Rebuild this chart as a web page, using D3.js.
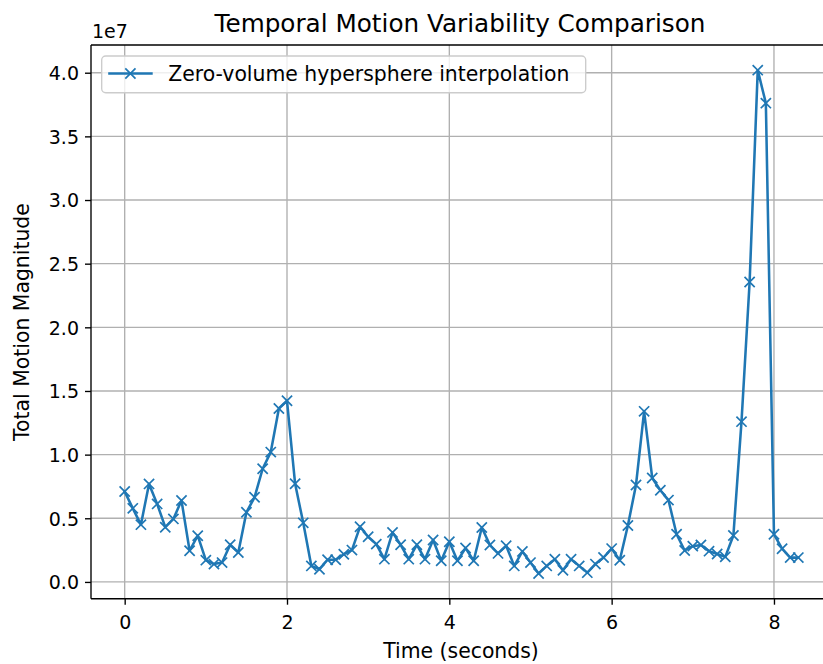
<!DOCTYPE html>
<html>
<head>
<meta charset="utf-8">
<script src="https://cdn.jsdelivr.net/npm/d3@7"></script>
<style>
  body { margin: 0; background: #fff; }
  text { font-family: "DejaVu Sans", sans-serif; fill: #000; }
</style>
</head>
<body>
<div id="chart"></div>
<script>
// time stamps (seconds)
var times = [0.0, 0.1, 0.2, 0.3, 0.4, 0.5, 0.6, 0.7, 0.8, 0.9,
             1.0, 1.1, 1.2, 1.3, 1.4, 1.5, 1.6, 1.7, 1.8, 1.9,
             2.0, 2.1, 2.2, 2.3, 2.4, 2.5, 2.6, 2.7, 2.8, 2.9,
             3.0, 3.1, 3.2, 3.3, 3.4, 3.5, 3.6, 3.7, 3.8, 3.9,
             4.0, 4.1, 4.2, 4.3, 4.4, 4.5, 4.6, 4.7, 4.8, 4.9,
             5.0, 5.1, 5.2, 5.3, 5.4, 5.5, 5.6, 5.7, 5.8, 5.9,
             6.0, 6.1, 6.2, 6.3, 6.4, 6.5, 6.6, 6.7, 6.8, 6.9,
             7.0, 7.1, 7.2, 7.3, 7.4, 7.5, 7.6, 7.7, 7.8, 7.9,
             8.0, 8.1, 8.2, 8.3];

// total motion magnitude, in units of 1e7
var motion = [0.710, 0.578, 0.450, 0.770, 0.613, 0.430, 0.495, 0.640, 0.245, 0.363,
              0.171, 0.140, 0.152, 0.292, 0.231, 0.547, 0.665, 0.889, 1.020, 1.362,
              1.423, 0.771, 0.464, 0.126, 0.100, 0.174, 0.174, 0.218, 0.250, 0.434,
              0.355, 0.297, 0.179, 0.389, 0.292, 0.179, 0.292, 0.179, 0.329, 0.166,
              0.316, 0.166, 0.266, 0.166, 0.428, 0.290, 0.224, 0.284, 0.126, 0.240,
              0.152, 0.066, 0.126, 0.179, 0.092, 0.179, 0.126, 0.073, 0.140, 0.192,
              0.262, 0.170, 0.443, 0.762, 1.340, 0.817, 0.720, 0.643, 0.375, 0.247,
              0.281, 0.290, 0.242, 0.219, 0.197, 0.365, 1.259, 2.356, 4.020, 3.761,
              0.374, 0.261, 0.191, 0.191].map(function(v) { return v * 1e7; });

var xTicks = [0, 2, 4, 6, 8];
var yTicks = [0, 0.5e7, 1.0e7, 1.5e7, 2.0e7, 2.5e7, 3.0e7, 3.5e7, 4.0e7];
var seriesName = "Zero-volume hypersphere interpolation";

var svgWidth = 823;
var svgHeight = 664;
// axes box; the right side runs past the window edge like the original
var margin = {top: 45, left: 91};
var width = 741;
var height = 553.7;
var blue = "#1f77b4";
var tickFont = "19px";
var labelFont = "20.4px";

var svg = d3.select("#chart").append("svg")
    .attr("width", svgWidth)
    .attr("height", svgHeight);

var g = svg.append("g")
    .attr("transform", `translate(${margin.left}, ${margin.top})`);

// matplotlib style 5% margins
var xExt = d3.extent(times);
var yExt = d3.extent(motion);
var xPad = (xExt[1] - xExt[0]) * 0.05;
var yPad = (yExt[1] - yExt[0]) * 0.05;

var x = d3.scaleLinear().domain([xExt[0] - xPad, xExt[1] + xPad]).range([0, width]);
var y = d3.scaleLinear().domain([yExt[0] - yPad, yExt[1] + yPad]).range([height, 0]);

// grid
g.append("g").selectAll("line").data(xTicks).enter().append("line")
    .attr("x1", function(d) { return x(d); })
    .attr("x2", function(d) { return x(d); })
    .attr("y1", 0).attr("y2", height)
    .attr("stroke", "#b0b0b0").attr("stroke-width", 1.36);
g.append("g").selectAll("line").data(yTicks).enter().append("line")
    .attr("y1", function(d) { return y(d); })
    .attr("y2", function(d) { return y(d); })
    .attr("x1", 0).attr("x2", width)
    .attr("stroke", "#b0b0b0").attr("stroke-width", 1.36);

// line + x markers
var data = times.map(function(t, i) { return [t, motion[i]]; });
var line = d3.line()
    .x(function(d) { return x(d[0]); })
    .y(function(d) { return y(d[1]); });

g.append("path")
    .datum(data)
    .attr("d", line)
    .attr("fill", "none")
    .attr("stroke", blue)
    .attr("stroke-width", 2.55)
    .attr("stroke-linejoin", "round")
    .attr("stroke-linecap", "square");

var ms = 5.1;
var xMark = `M${-ms},${-ms}L${ms},${ms}M${-ms},${ms}L${ms},${-ms}`;
g.append("g").selectAll("path").data(data).enter().append("path")
    .attr("d", xMark)
    .attr("transform", function(d) { return `translate(${x(d[0])},${y(d[1])})`; })
    .attr("stroke", blue)
    .attr("stroke-width", 1.7)
    .attr("fill", "none");

// axes
var xAxis = d3.axisBottom(x).tickValues(xTicks).tickSize(6).tickPadding(6)
    .tickFormat(d3.format("d"));
var yAxis = d3.axisLeft(y).tickValues(yTicks).tickSize(6).tickPadding(6)
    .tickFormat(function(d) { return (d / 1e7).toFixed(1); });

var xg = g.append("g").attr("transform", `translate(0, ${height})`).call(xAxis);
var yg = g.append("g").call(yAxis);
[xg, yg].forEach(function(a) {
    a.select(".domain").remove();
    a.selectAll(".tick line").attr("stroke", "#000").attr("stroke-width", 1.36);
    a.selectAll(".tick text").style("font-size", tickFont).attr("fill", "#222");
});
xg.selectAll(".tick text").attr("dy", null).attr("y", 30);
yg.selectAll(".tick text").attr("dy", "0.36em");

// spines
g.append("line").attr("x1", 0).attr("x2", 0).attr("y1", 0).attr("y2", height)
    .attr("stroke", "#000").attr("stroke-width", 1.36);
g.append("line").attr("x1", 0).attr("x2", width).attr("y1", height).attr("y2", height)
    .attr("stroke", "#000").attr("stroke-width", 1.36);
g.append("line").attr("x1", 0).attr("x2", width).attr("y1", 0).attr("y2", 0)
    .attr("stroke", "#000").attr("stroke-width", 1.36);
g.append("line").attr("x1", width).attr("x2", width).attr("y1", 0).attr("y2", height)
    .attr("stroke", "#000").attr("stroke-width", 1.36);

// offset text
g.append("text").attr("x", 1).attr("y", -7)
    .style("font-size", tickFont).attr("fill", "#222").text("1e7");

// title and labels
svg.append("text")
    .attr("x", 460).attr("y", 32)
    .attr("text-anchor", "middle")
    .style("font-size", "24.7px")
    .attr("fill", "#222")
    .text("Temporal Motion Variability Comparison");

svg.append("text")
    .attr("x", 461).attr("y", 658)
    .attr("text-anchor", "middle")
    .style("font-size", labelFont)
    .attr("fill", "#222")
    .text("Time (seconds)");

svg.append("text")
    .attr("transform", "translate(29, 322) rotate(-90)")
    .attr("text-anchor", "middle")
    .style("font-size", labelFont)
    .attr("fill", "#222")
    .text("Total Motion Magnitude");

// legend
var lg = g.append("g").attr("transform", "translate(10.7, 11)");
lg.append("rect")
    .attr("width", 484).attr("height", 36.7)
    .attr("rx", 4).attr("ry", 4)
    .attr("fill", "#fff").attr("fill-opacity", 0.8)
    .attr("stroke", "#cccccc").attr("stroke-width", 1.36);
lg.append("line").attr("x1", 6.5).attr("x2", 51).attr("y1", 17.5).attr("y2", 17.5)
    .attr("stroke", blue).attr("stroke-width", 2.55);
lg.append("path").attr("d", xMark).attr("transform", "translate(28.7, 17.5)")
    .attr("stroke", blue).attr("stroke-width", 1.7).attr("fill", "none");
lg.append("text").attr("x", 66.5).attr("y", 17.5).attr("dy", "0.36em")
    .style("font-size", labelFont).attr("fill", "#222")
    .text(seriesName);
</script>
</body>
</html>
